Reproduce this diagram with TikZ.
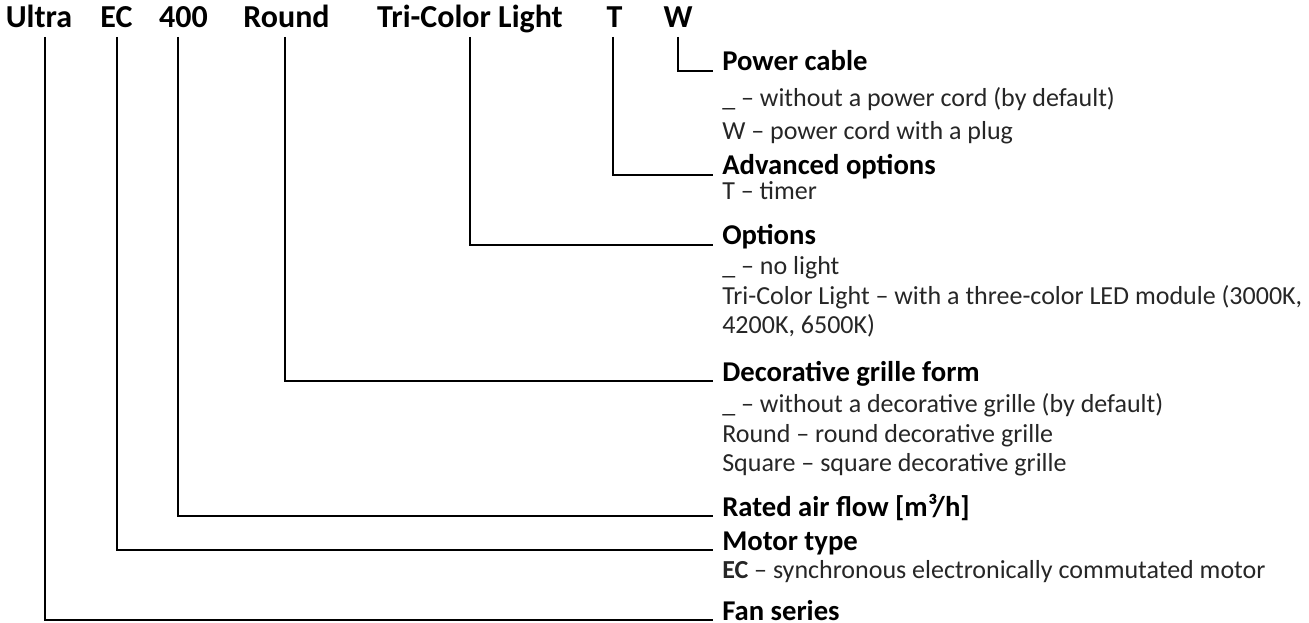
\documentclass[tikz,border=0pt]{standalone}
\usepackage{fontspec}
\setmainfont{Carlito}
\tikzset{
  code/.style = {font=\fontsize{24}{28}\selectfont\bfseries, inner sep=0pt, text depth=0pt, anchor=base},
  head/.style = {font=\fontsize{21.5}{25}\selectfont\bfseries, inner sep=0pt, text depth=0pt, anchor=base west},
  desc/.style = {font=\fontsize{19.5}{23}\selectfont, text=black!85, inner sep=0pt, anchor=base west},
  lead/.style = {line width=0.8pt},
}

\begin{document}
\begin{tikzpicture}[x=0.75pt, y=-0.75pt]
  \useasboundingbox (0,0) rectangle (1309,623);

  % model code
  \node [code] (ultra) at (39,28) {Ultra};
  \node [code] (ec) at (116.5,28) {EC};
  \node [code] (flow) at (183.5,28) {400};
  \node [code] (round) at (286.5,28) {Round};
  \node [code] (light) at (470,28) {Tri-Color Light};
  \node [code] (timer) at (614.5,28) {T};
  \node [code] (cable) at (678,28) {W};

  % explanations
  \node [head] (cable-h) at (722,71) {Power cable};
  \node [desc] (cable-a) at (722,107) {\_ -- without a power cord (by default)};
  \node [desc] (cable-b) at (722,140) {W -- power cord with a plug};

  \node [head] (timer-h) at (722,175) {Advanced options};
  \node [desc] (timer-a) at (722,200) {T -- timer};

  \node [head] (light-h) at (722,245) {Options};
  \node [desc] (light-a) at (722,275) {\_ -- no light};
  \node [desc] (light-b) at (722,305) {Tri-Color Light -- with a three-color LED module (3000K,};
  \node [desc] (light-c) at (722,334) {4200K, 6500K)};

  \node [head] (round-h) at (722,381) {Decorative grille form};
  \node [desc] (round-a) at (722,412) {\_ -- without a decorative grille (by default)};
  \node [desc] (round-b) at (722,442) {Round -- round decorative grille};
  \node [desc] (round-c) at (722,471) {Square -- square decorative grille};

  \node [head] (flow-h) at (722,516) {Rated air flow [m³/h]};

  \node [head] (ec-h) at (722,550) {Motor type};
  \node [desc] (ec-a) at (722,578) {\textbf{EC} -- synchronous electronically commutated motor};

  \node [head] (ultra-h) at (722,620) {Fan series};

  % leaders
  \draw [lead] (ultra.base) ++(6,9) |- ([xshift=-6.75pt]ultra-h.base west);
  \draw [lead] (ec.base) ++(0.5,9) |- ([xshift=-6.75pt]ec-h.base west);
  \draw [lead] (flow.base) ++(-5.5,9) |- ([xshift=-6.75pt]flow-h.base west);
  \draw [lead] (round.base) ++(-1.5,9) |- ([xshift=-6.75pt]round-h.base west);
  \draw [lead] (light.base) ++(0,9) |- ([xshift=-6.75pt]light-h.base west);
  \draw [lead] (timer.base) ++(-1.5,9) |- ([xshift=-6.75pt]timer-h.base west);
  \draw [lead] (cable.base) ++(0,9) |- ([xshift=-6.75pt]cable-h.base west);
\end{tikzpicture}
\end{document}
